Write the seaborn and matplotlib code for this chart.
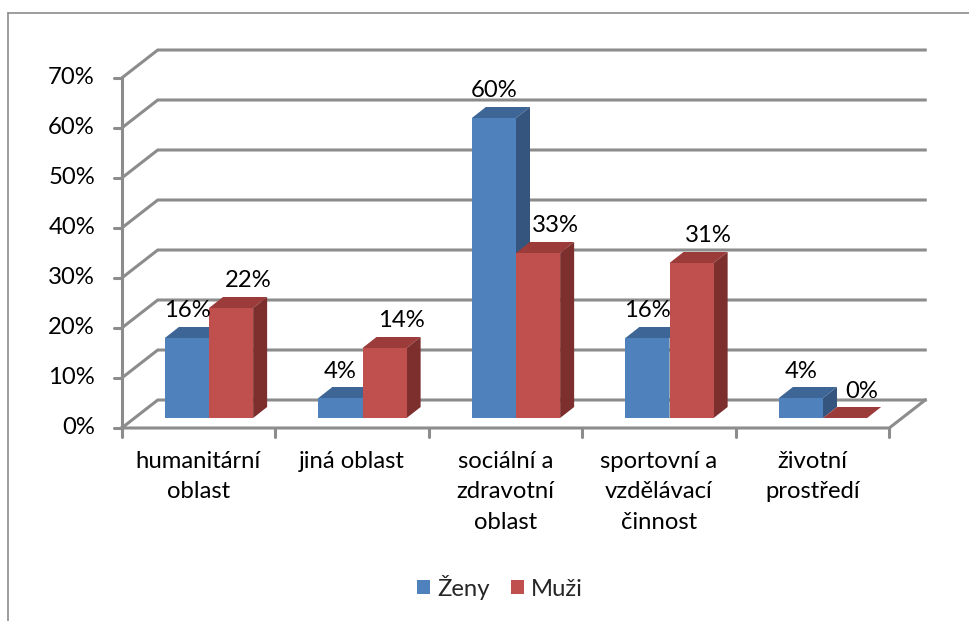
import matplotlib
matplotlib.use("Agg")
import matplotlib.pyplot as plt
import seaborn as sns
import pandas as pd
from matplotlib.patches import Polygon
from matplotlib.lines import Line2D

# ---------------- data ----------------
categories = ["humanitární\noblast", "jiná oblast", "sociální a\nzdravotní\noblast",
              "sportovní a\nvzdělávací\nčinnost", "životní\nprostředí"]
series = ["Ženy", "Muži"]
zeny = [16, 4, 60, 16, 4]
muzi = [22, 14, 33, 31, 0]
yticks = [0, 10, 20, 30, 40, 50, 60, 70]

# ---------------- style ----------------
front_c = {"Ženy": "#4F81BD", "Muži": "#C0504D"}
top_c = {"Ženy": "#3D6696", "Muži": "#9C3C3A"}
side_c = {"Ženy": "#35557F", "Muži": "#7C2F2D"}
grid_c = "#8C8C8C"
FS = 17.2

sns.set_theme(style="white")
plt.rcParams['font.family'] = ['Lato', 'DejaVu Sans']

W, H = 969, 621
fig = plt.figure(figsize=(W / 100, H / 100), dpi=100)
ax = fig.add_axes([0, 0, 1, 1])

# pixel <-> data scale (bar plane is the data plane)
X0, SX, Y0, SY = 209.0, 153.5, 418.0, 5.0
def dx(px):
    return px / SX
def dy(px):
    return px / SY

df = pd.DataFrame({
    "oblast": categories * 2,
    "pohlaví": [series[0]] * len(categories) + [series[1]] * len(categories),
    "podíl": zeny + muzi,
})

sns.barplot(data=df, x="oblast", y="podíl", hue="pohlaví",
            palette=[front_c[s] for s in series], width=0.575, gap=0,
            saturation=1, linewidth=0, ax=ax, errorbar=None)

ax.set_xlim(-X0 / SX, (W - X0) / SX)
ax.set_ylim((Y0 - H) / SY, Y0 / SY)
ax.set_axis_off()

# 3D geometry offsets
FX, FY = dx(-10.5), dy(-10)          # front plane relative to bar plane
DX, DY = dx(36), dy(28)              # wall depth
BX, BY = dx(14), dy(11)              # bar depth
n = len(categories)
xlf = -0.5 + FX
xrf = n - 0.5 + FX
xrb = xrf + DX
lw = 2.2
lkw = dict(color=grid_c, lw=lw, solid_capstyle="projecting", solid_joinstyle="miter", zorder=1)

for v in yticks:
    ax.plot([xlf, xlf + DX, xrb], [v + FY, v + FY + DY, v + FY + DY], **lkw)
    ax.plot([xlf - dx(8), xlf], [v + FY, v + FY], color=grid_c, lw=lw, zorder=1)
# floor front and right edge
ax.plot([xlf, xrf, xrb], [FY, FY, FY + DY], **lkw)
# y axis
ax.plot([xlf, xlf], [FY, yticks[-1] + FY], **lkw)
# x ticks
for i in range(n + 1):
    ax.plot([i - 0.5 + FX] * 2, [FY, FY - dy(9)], color=grid_c, lw=lw, zorder=1)

# bars: faces
bars = []
for s, cont in zip(series, ax.containers):
    for p in cont.patches:
        bars.append((p.get_x(), s, p))
bars.sort(key=lambda t: t[0])
for k, (_, s, p) in enumerate(bars):
    x, w, h = p.get_x(), p.get_width(), p.get_height()
    z = 3 + 0.01 * k
    ax.add_patch(Polygon([(x, h), (x + w, h), (x + w + BX, h + BY), (x + BX, h + BY)],
                         closed=True, facecolor=top_c[s], edgecolor="none", zorder=z))
    ax.add_patch(Polygon([(x + w, 0), (x + w + BX, BY), (x + w + BX, h + BY), (x + w, h)],
                         closed=True, facecolor=side_c[s], edgecolor="none", zorder=z))
    p.set_zorder(z + 0.005)
    off = 0 if s == series[0] else 17
    ax.annotate(f"{int(round(h))}%", xy=(x + w / 2, h), xytext=(off * 0.72, 27 * 0.72),
                textcoords="offset points", ha="center", va="center",
                fontsize=FS, color="black", zorder=10)

# y tick labels
for v in yticks:
    ax.text(dx(95 - X0), v + FY, f"{v}%", ha="right", va="center", fontsize=FS, color="black")

# category labels
for i, c in enumerate(categories):
    ax.text(i + FX, dy(Y0 - 451), c, ha="center", va="top", fontsize=FS,
            color="black", linespacing=1.55, multialignment="center")

# legend
handles, labels = ax.get_legend_handles_labels()
if ax.get_legend() is not None:
    ax.get_legend().remove()
ax.legend(handles, labels, loc="center", bbox_to_anchor=(500 / W, 1 - 587 / H),
          bbox_transform=fig.transFigure, ncol=2, frameon=False, fontsize=FS,
          handlelength=0.55, handleheight=0.55, handletextpad=0.3, columnspacing=0.9)

# chart area border
fig.add_artist(Line2D([8 / W, 1], [1 - 12.5 / H] * 2, transform=fig.transFigure,
                      color=grid_c, lw=1.2))
fig.add_artist(Line2D([8 / W] * 2, [1 - 12.5 / H, 0], transform=fig.transFigure,
                      color=grid_c, lw=1.2))

fig.savefig("out.png", dpi=100)
